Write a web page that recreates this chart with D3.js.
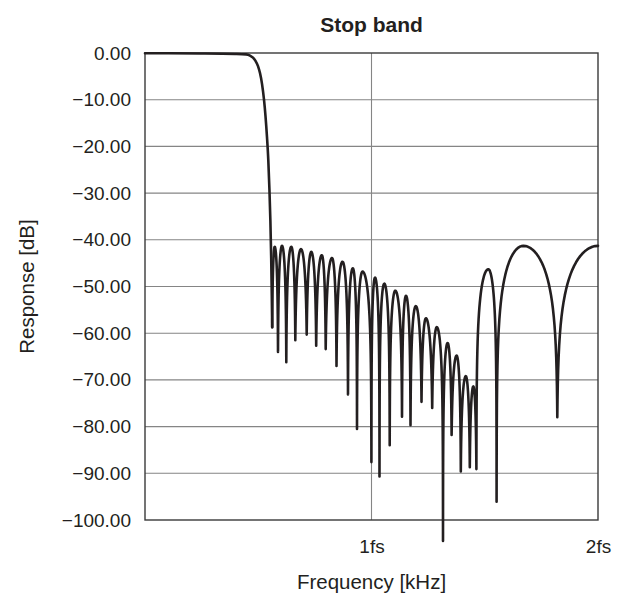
<!DOCTYPE html>
<html>
<head>
<meta charset="utf-8">
<script src="https://cdn.jsdelivr.net/npm/d3@7"></script>
<style>
  html, body { margin: 0; padding: 0; background: #fff; }
  svg { display: block; }
  text { font-family: "Liberation Sans", Arial, Helvetica, sans-serif; fill: #231f20; }
</style>
</head>
<body>
<svg id="chart" width="626" height="597"></svg>
<script>
// ---------------- data ----------------
const title = "Stop band";
const xTitle = "Frequency [kHz]";
const yTitle = "Response [dB]";
const yTicks = [0, -10, -20, -30, -40, -50, -60, -70, -80, -90, -100];
const xTickValues = [1, 2];
const xTickLabels = ["1fs", "2fs"];

// pass band + transition (frequency in fs, response in dB)
const rollFreq = [0, 0.243, 0.397, 0.4459, 0.4636, 0.4768, 0.4879, 0.4989, 0.5077, 0.5166, 0.5254, 0.5320, 0.5386, 0.5444, 0.5492, 0.5536, 0.5572, 0.5598, 0.5616];
const rollDb   = [-0.05, -0.1, -0.2, -0.3, -0.55, -1.0, -1.7, -2.8, -4.3, -6.6, -10.0, -13.5, -18.0, -23.0, -29.0, -36.0, -44.0, -52.0, -58.7];

// stop band: alternating nulls and lobe peaks
const lobeFreq = [0.5616, 0.5726, 0.5872, 0.6049, 0.6238, 0.6459, 0.6636, 0.6887, 0.7139, 0.7342,
                  0.7558, 0.7806, 0.7978, 0.8256, 0.8455, 0.8720, 0.8962, 0.9174, 0.9360, 0.9603,
                  0.9996, 1.0155, 1.0353, 1.0565, 1.0804, 1.1051, 1.1347, 1.1523, 1.1722, 1.1956,
                  1.2208, 1.2402, 1.2680, 1.2883, 1.3157, 1.3360, 1.3537, 1.3757, 1.3943, 1.4163,
                  1.4340, 1.4495, 1.4631, 1.5157, 1.5523, 1.6702, 1.8203, 2.0];
const lobeDb   = [-58.7, -41.5, -64.0, -41.3, -66.2, -41.5, -61.5, -42.0, -60.3, -42.6,
                  -62.7, -43.3, -63.4, -43.9, -67.0, -44.7, -73.1, -46.1, -80.5, -46.8,
                  -87.6, -48.1, -90.7, -49.4, -84.0, -50.9, -77.9, -52.0, -79.7, -54.2,
                  -74.7, -56.8, -76.0, -58.7, -104.5, -62.1, -81.8, -64.8, -89.6, -69.2,
                  -88.7, -71.4, -89.1, -46.3, -96.1, -41.3, -78.0, -41.3];

// ---------------- chart ----------------
const svg = d3.select("#chart");
const mLeft = 145, mRight = 598, mTop = 53, mBottom = 520;
const x = d3.scaleLinear().domain([0, 2]).range([mLeft, mRight]);
const y = d3.scaleLinear().domain([-100, 0]).range([mBottom, mTop]);
const pxPerDb = Math.abs(y(-1) - y(0));
const ink = "#231f20";
const fontFam = "'Liberation Sans', Arial, Helvetica, sans-serif";

// grid
svg.append("g").selectAll("line").data(yTicks.filter(d => d !== 0 && d !== -100)).join("line")
  .attr("x1", mLeft).attr("x2", mRight).attr("y1", d => y(d)).attr("y2", d => y(d))
  .attr("stroke", "#858585").attr("stroke-width", 1.1);
svg.append("g").selectAll("line").data(xTickValues.filter(d => d < 2)).join("line")
  .attr("x1", d => x(d)).attr("x2", d => x(d)).attr("y1", mTop).attr("y2", mBottom)
  .attr("stroke", "#858585").attr("stroke-width", 1.1);

// frame
svg.append("rect").attr("x", mLeft).attr("y", mTop).attr("width", mRight - mLeft).attr("height", mBottom - mTop)
  .attr("fill", "none").attr("stroke", "#3a3a3a").attr("stroke-width", 1.4);

// axes
const yAxis = d3.axisLeft(y).tickValues(yTicks).tickSize(0).tickPadding(14).tickFormat(d3.format(".2f"));
const gy = svg.append("g").attr("transform", `translate(${mLeft},0)`).call(yAxis);
gy.select(".domain").remove();
gy.selectAll("text").attr("font-size", 19).attr("fill", ink).style("font-family", fontFam);

const xAxis = d3.axisBottom(x).tickValues(xTickValues).tickSize(0).tickPadding(20)
  .tickFormat((d, i) => xTickLabels[i]);
const gx = svg.append("g").attr("transform", `translate(0,${mBottom})`).call(xAxis);
gx.select(".domain").remove();
gx.selectAll("text").attr("font-size", 19).attr("fill", ink).style("font-family", fontFam);

// custom curve: each segment between a null and a peak drawn as a side lobe (log-amplitude arch)
function curveLobes(context) {
  let pts = [];
  const steps = 28;
  return {
    areaStart() {}, areaEnd() {},
    lineStart() { pts = []; },
    point(px, py) { pts.push([+px, +py]); },
    lineEnd() {
      if (!pts.length) return;
      context.moveTo(pts[0][0], pts[0][1]);
      for (let i = 0; i < pts.length - 1; i++) {
        const a = pts[i], b = pts[i + 1];
        const peakFirst = a[1] < b[1];
        const P = peakFirst ? a : b, N = peakFirst ? b : a;
        const depth = (N[1] - P[1]) / pxPerDb;
        const fl = Math.pow(10, -depth / 20);
        for (let k = 1; k <= steps; k++) {
          const u = k / steps;
          const t = peakFirst ? (1 - u) * (1 - u) : u * u; // 0 at null, 1 at peak
          const amp = fl + (1 - fl) * Math.sin(Math.PI * t / 2);
          const rel = -20 * Math.log10(amp);
          context.lineTo(N[0] + t * (P[0] - N[0]), P[1] + rel * pxPerDb);
        }
      }
    }
  };
}

const rollData = rollFreq.map((f, i) => [f, rollDb[i]]);
const lobeData = lobeFreq.map((f, i) => [f, lobeDb[i]]);

svg.append("path").datum(rollData)
  .attr("d", d3.line().x(d => x(d[0])).y(d => y(d[1])).curve(d3.curveMonotoneX))
  .attr("fill", "none").attr("stroke", ink).attr("stroke-width", 2.6)
  .attr("stroke-linejoin", "round").attr("stroke-linecap", "round");

svg.append("path").datum(lobeData)
  .attr("d", d3.line().x(d => x(d[0])).y(d => y(d[1])).curve(curveLobes))
  .attr("fill", "none").attr("stroke", ink).attr("stroke-width", 2.6)
  .attr("stroke-linejoin", "round").attr("stroke-linecap", "round");

// titles
svg.append("text").attr("x", (mLeft + mRight) / 2).attr("y", 32).attr("text-anchor", "middle")
  .attr("font-size", 21).attr("font-weight", "bold").text(title);
svg.append("text").attr("x", (mLeft + mRight) / 2).attr("y", 589).attr("text-anchor", "middle")
  .attr("font-size", 20.5).text(xTitle);
svg.append("text").attr("transform", `translate(34,${(mTop + mBottom) / 2}) rotate(-90)`)
  .attr("text-anchor", "middle").attr("font-size", 20.5).text(yTitle);
</script>
</body>
</html>
